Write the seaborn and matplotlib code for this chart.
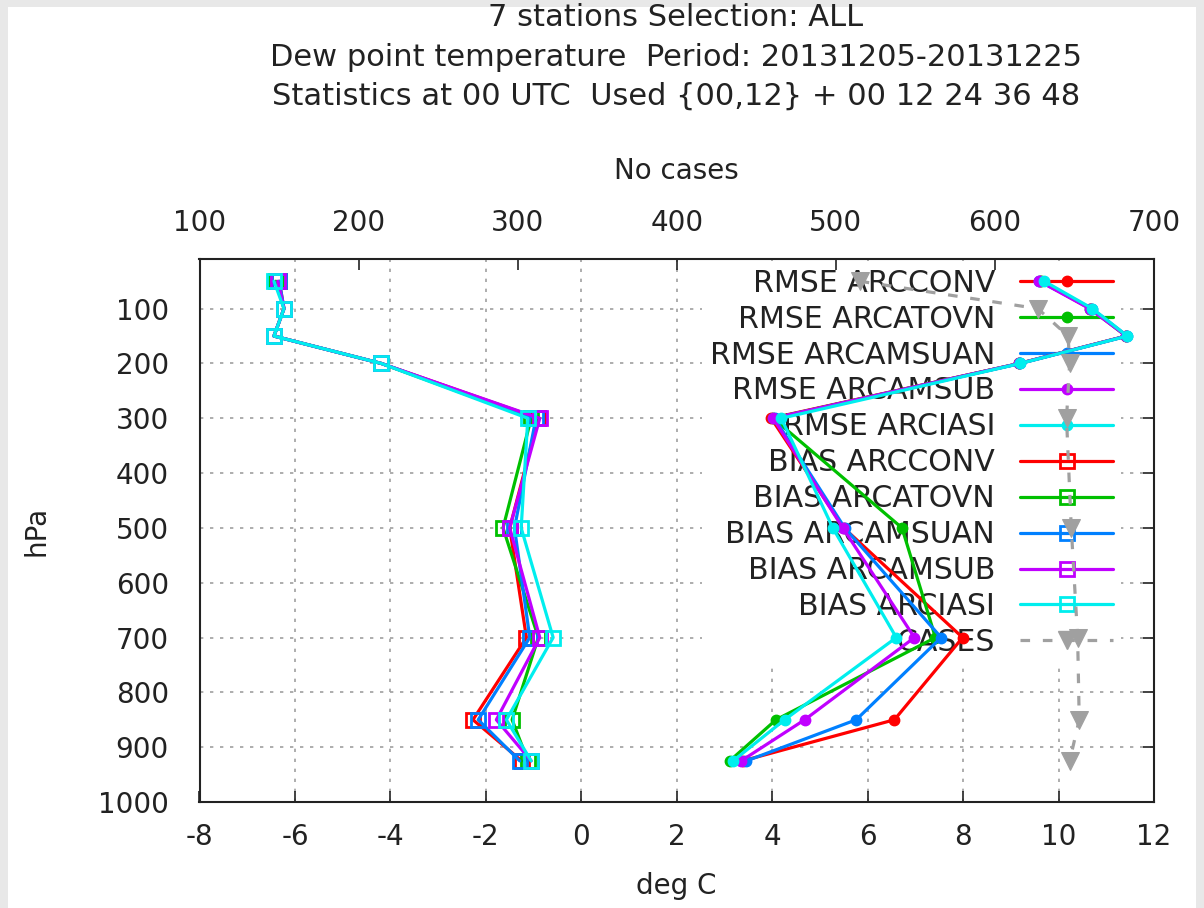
import matplotlib
matplotlib.use("Agg")
import matplotlib.pyplot as plt
import seaborn as sns
import numpy as np
from matplotlib.patches import Rectangle
from matplotlib.lines import Line2D

sns.set_style("white")
plt.rcParams['font.family'] = ['DejaVu Sans']
plt.rcParams['axes.unicode_minus'] = False

# ---------------- data ----------------
levels = [50, 100, 150, 200, 300, 500, 700, 850, 925]

rmse_arcconv   = [9.62, 10.68, 11.42, 9.18, 3.98, 5.50, 7.99, 6.56, 3.38]
rmse_arcatovn  = [9.64, 10.66, 11.42, 9.18, 4.02, 6.72, 7.42, 4.08, 3.11]
rmse_arcamsuan = [9.60, 10.70, 11.44, 9.20, 4.05, 5.52, 7.54, 5.76, 3.46]
rmse_arcamsub  = [9.60, 10.65, 11.42, 9.18, 4.02, 5.48, 6.98, 4.68, 3.35]
rmse_arciasi   = [9.70, 10.71, 11.44, 9.20, 4.19, 5.27, 6.60, 4.26, 3.18]

bias_arcconv   = [-6.33, -6.23, -6.44, -4.19, -0.90, -1.50, -1.15, -2.27, -1.25]
bias_arcatovn  = [-6.40, -6.23, -6.44, -4.19, -1.05, -1.64, -0.90, -1.45, -1.12]
bias_arcamsuan = [-6.33, -6.23, -6.44, -4.19, -0.95, -1.40, -1.08, -2.16, -1.29]
bias_arcamsub  = [-6.36, -6.23, -6.44, -4.19, -0.87, -1.50, -0.87, -1.78, -1.05]
bias_arciasi   = [-6.44, -6.23, -6.44, -4.19, -1.12, -1.26, -0.59, -1.57, -1.05]

cases = [515, 627, 646, 647, 645, 648, 652, 653, 647]

names = ["ARCCONV", "ARCATOVN", "ARCAMSUAN", "ARCAMSUB", "ARCIASI"]
colors = ["#ff0000", "#00c000", "#0080ff", "#c000ff", "#00eeee"]
rmse_series = [rmse_arcconv, rmse_arcatovn, rmse_arcamsuan, rmse_arcamsub, rmse_arciasi]
bias_series = [bias_arcconv, bias_arcatovn, bias_arcamsuan, bias_arcamsub, bias_arciasi]

title = ("7 stations Selection: ALL\n"
         "Dew point temperature  Period: 20131205-20131225\n"
         "Statistics at 00 UTC  Used {00,12} + 00 12 24 36 48")

# ---------------- figure ----------------
W, H = 1204, 908
fig = plt.figure(figsize=(W / 100, H / 100), dpi=100)
fig.patch.set_facecolor("#e8e8e8")
fig.patches.append(Rectangle((8 / W, 0), (1196 - 8) / W, (H - 7) / H,
                             transform=fig.transFigure, facecolor="white",
                             edgecolor="none", zorder=-10))

L, R, T, B = 199.5, 1154, 259.3, 802
ax = fig.add_axes([L / W, 1 - B / H, (R - L) / W, (B - T) / H])
ax.set_facecolor("none")

FS = 20
LFS = 21.6
lw = 2.3
handles = []
for nm, c, vals in zip(names, colors, rmse_series):
    sns.lineplot(x=vals, y=levels, sort=False, estimator=None, orient="y",
                 ax=ax, color=c, lw=lw, marker="o", markersize=7.5,
                 markeredgecolor=c, markerfacecolor=c, markeredgewidth=1,
                 zorder=3)
    handles.append(Line2D([], [], color=c, lw=lw, marker="o", markersize=7.5,
                          markeredgecolor=c, markerfacecolor=c,
                          label="RMSE " + nm))
for nm, c, vals in zip(names, colors, bias_series):
    sns.lineplot(x=vals, y=levels, sort=False, estimator=None, orient="y",
                 ax=ax, color=c, lw=lw, marker="s", markersize=10,
                 markeredgecolor=c, markerfacecolor="none", markeredgewidth=2,
                 zorder=3)
    handles.append(Line2D([], [], color=c, lw=lw, marker="s", markersize=10,
                          markeredgecolor=c, markerfacecolor="none",
                          markeredgewidth=2, label="BIAS " + nm))

ax.set_xlim(-8, 12)
ax.set_ylim(1000, 10)
ax.set_xticks(np.arange(-8, 13, 2))
ax.set_yticks(np.arange(100, 1001, 100))
ax.set_axisbelow(True)
ax.grid(True, color="#a0a0a0", lw=1.2, linestyle=(0, (2, 4)))
ax.tick_params(axis="both", direction="in", length=8, width=1.2,
               labelsize=FS, colors="#222222", top=True, right=True)
ax.tick_params(axis="x", pad=15)
ax.tick_params(axis="y", pad=22)
for s in ax.spines.values():
    s.set_linewidth(1.5)
    s.set_color("#222222")
ax.set_xlabel("deg C", fontsize=FS, labelpad=15.5, color="#222222")
ax.set_ylabel("hPa", fontsize=FS, labelpad=34, color="#222222")

# top axis: number of cases
ax2 = ax.twiny()
sns.lineplot(x=cases, y=levels, sort=False, estimator=None, orient="y",
             ax=ax2, color="#a0a0a0", lw=2.3, linestyle=(0, (3, 4)),
             marker="v", markersize=13, markeredgecolor="#a0a0a0",
             markerfacecolor="#a0a0a0", zorder=4)
handles.append(Line2D([], [], color="#a0a0a0", lw=2.3, linestyle=(0, (3, 4)),
                      marker="v", markersize=13, markeredgecolor="#a0a0a0",
                      markerfacecolor="#a0a0a0", label="CASES"))
ax2.set_xlim(100, 700)
ax2.set_ylim(1000, 10)
ax2.set_xticks(np.arange(100, 701, 100))
ax2.tick_params(axis="x", direction="in", length=8, width=1.2,
                labelsize=FS, colors="#222222", pad=16)
ax2.set_xlabel("No cases", fontsize=FS, labelpad=22, color="#222222")
ax2.grid(False)
for s in ax2.spines.values():
    s.set_visible(False)

leg = ax.legend(handles=handles, loc="upper right",
                bbox_to_anchor=((1120.5 - L) / (R - L), 1.0 - 2 / (B - T)),
                fontsize=LFS, markerfirst=False, frameon=True,
                fancybox=False, framealpha=1, facecolor="white",
                edgecolor="none", handlelength=3.1, handletextpad=0.83,
                labelspacing=0.23, borderpad=0.25, borderaxespad=0)
leg.set_zorder(1)
for t in leg.get_texts():
    t.set_color("#222222")

fig.text(676 / W, 1 - 57 / H, title, ha="center", va="center",
         fontsize=22, linespacing=1.46, color="#222222")

fig.savefig("out.png", dpi=100, facecolor=fig.get_facecolor())
